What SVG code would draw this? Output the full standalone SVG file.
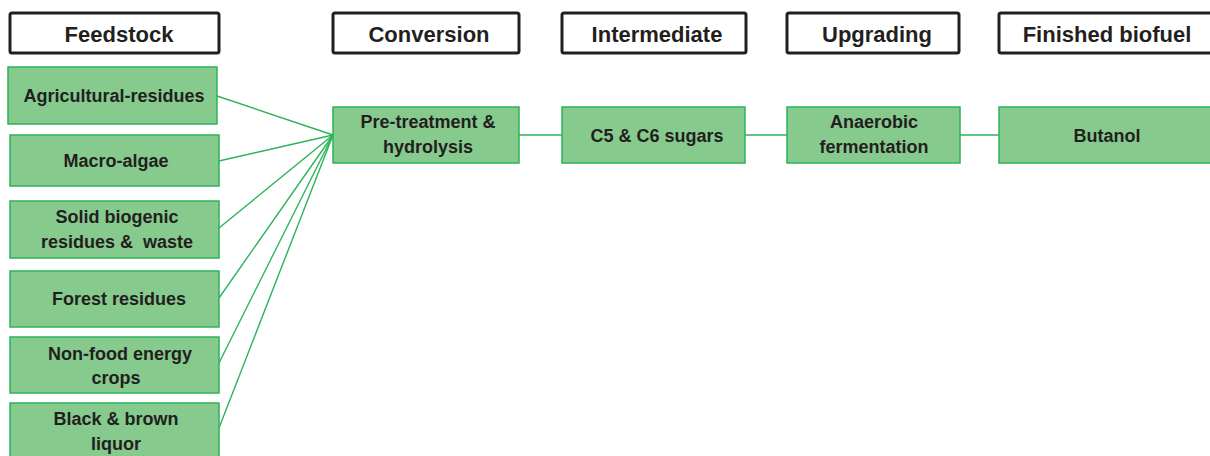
<svg xmlns="http://www.w3.org/2000/svg" width="1210" height="456" viewBox="0 0 1210 456">
<style>
.hdr{fill:#fff;stroke:#231f20;stroke-width:3}
.node{fill:#86ca8d;stroke:#2bb35a;stroke-width:1.5}
.ht{font-family:"Liberation Sans",Arial,sans-serif;font-weight:bold;font-size:22px;fill:#231f20;text-anchor:middle}
.t{font-family:"Liberation Sans",Arial,sans-serif;font-weight:bold;font-size:18px;fill:#231f20;text-anchor:middle}
.c{stroke:#2bb35a;stroke-width:1.4;fill:none}
</style>
<rect width="1210" height="456" fill="#fff"/>
<g id="h-feedstock"><rect class="hdr" x="10" y="13" width="209" height="40" rx="2"/><text class="ht" x="119" y="42">Feedstock</text></g>
<g id="h-conversion"><rect class="hdr" x="333" y="13" width="186" height="40" rx="2"/><text class="ht" x="429" y="42">Conversion</text></g>
<g id="h-intermediate"><rect class="hdr" x="562" y="13" width="184" height="40" rx="2"/><text class="ht" x="657" y="42">Intermediate</text></g>
<g id="h-upgrading"><rect class="hdr" x="787" y="13" width="172" height="40" rx="2"/><text class="ht" x="877" y="42">Upgrading</text></g>
<g id="h-finished"><rect class="hdr" x="999" y="13" width="220" height="40" rx="2"/><text class="ht" x="1107" y="42">Finished biofuel</text></g>
<g id="connectors">
<line class="c" x1="217" y1="96" x2="333" y2="135"/>
<line class="c" x1="219" y1="161" x2="333" y2="135"/>
<line class="c" x1="219" y1="228" x2="333" y2="135"/>
<line class="c" x1="219" y1="298" x2="333" y2="135"/>
<line class="c" x1="219" y1="363" x2="333" y2="135"/>
<line class="c" x1="219" y1="428" x2="333" y2="135"/>
<line class="c" x1="519" y1="135" x2="562" y2="135"/>
<line class="c" x1="745" y1="135" x2="787" y2="135"/>
<line class="c" x1="960" y1="135" x2="999" y2="135"/>
</g>
<g id="n-agri"><rect class="node" x="8" y="67" width="209" height="57"/><text class="t" x="114" y="102">Agricultural-residues</text></g>
<g id="n-macro"><rect class="node" x="10" y="135" width="209" height="51"/><text class="t" x="116" y="167">Macro-algae</text></g>
<g id="n-solid"><rect class="node" x="10" y="201" width="209" height="57"/><text class="t" x="117" y="223">Solid biogenic</text><text class="t" x="117" y="248" style="white-space:pre">residues &amp;  waste</text></g>
<g id="n-forest"><rect class="node" x="10" y="271" width="209" height="56"/><text class="t" x="119" y="305">Forest residues</text></g>
<g id="n-nonfood"><rect class="node" x="10" y="337" width="209" height="56"/><text class="t" x="120" y="360">Non-food energy</text><text class="t" x="116" y="384">crops</text></g>
<g id="n-black"><rect class="node" x="10" y="403" width="209" height="60"/><text class="t" x="116" y="425">Black &amp; brown</text><text class="t" x="116" y="450">liquor</text></g>
<g id="n-pretreat"><rect class="node" x="333" y="107" width="186" height="56"/><text class="t" x="428" y="128">Pre-treatment &amp;</text><text class="t" x="428" y="153">hydrolysis</text></g>
<g id="n-sugars"><rect class="node" x="562" y="107" width="183" height="56"/><text class="t" x="657" y="142">C5 &amp; C6 sugars</text></g>
<g id="n-anaerobic"><rect class="node" x="787" y="107" width="173" height="56"/><text class="t" x="874" y="128">Anaerobic</text><text class="t" x="874" y="153">fermentation</text></g>
<g id="n-butanol"><rect class="node" x="999" y="107" width="220" height="56"/><text class="t" x="1107" y="142">Butanol</text></g>
</svg>
